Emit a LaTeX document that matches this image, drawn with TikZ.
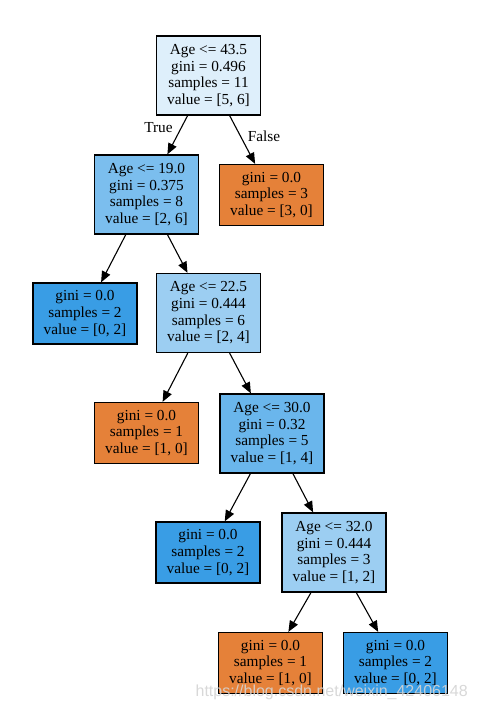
\documentclass[tikz,border=0pt]{standalone}
\usepackage{fontspec}
\setmainfont{Liberation Serif}
\newfontfamily\wmfont{Liberation Sans}
\usetikzlibrary{arrows.meta}
\definecolor{cblue}{HTML}{399DE5}
\definecolor{corange}{HTML}{E58139}
\definecolor{cb17}{HTML}{DEEFFB}
\definecolor{cb67}{HTML}{7BBEEE}
\definecolor{cb50}{HTML}{9CCEF2}
\definecolor{cb75}{HTML}{6AB6EC}
\definecolor{wmgray}{RGB}{212,212,212}
\tikzset{
  tree/.style={draw=black, line width=1.3pt, rectangle, align=center,
    minimum width=104pt, inner sep=0pt,
    font=\fontsize{15.3pt}{16.7pt}\selectfont},
  split/.style={tree, minimum height=79pt},
  leaf/.style={tree, minimum height=61pt},
  edge/.style={line width=1.1pt, -{Triangle[length=11pt,width=9pt]}},
  elabel/.style={font=\fontsize{15.3pt}{16.7pt}\selectfont, inner sep=0pt}
}
\begin{document}
\begin{tikzpicture}[x=1pt,y=-1pt]
\useasboundingbox[fill=white] (0,0) rectangle (478,712);
\node[split, fill=cb17] (n0) at (208.5,75.5) {Age <= 43.5\\gini = 0.496\\samples = 11\\value = [5, 6]};
\node[split, fill=cb67] (n1) at (146.5,194.5) {Age <= 19.0\\gini = 0.375\\samples = 8\\value = [2, 6]};
\node[leaf, fill=corange] (n2) at (271.5,195) {gini = 0.0\\samples = 3\\value = [3, 0]};
\node[leaf, fill=cblue] (n3) at (85,313.5) {gini = 0.0\\samples = 2\\value = [0, 2]};
\node[split, fill=cb50] (n4) at (208.5,313) {Age <= 22.5\\gini = 0.444\\samples = 6\\value = [2, 4]};
\node[leaf, fill=corange] (n5) at (146.5,433) {gini = 0.0\\samples = 1\\value = [1, 0]};
\node[split, fill=cb75] (n6) at (272,433.5) {Age <= 30.0\\gini = 0.32\\samples = 5\\value = [1, 4]};
\node[leaf, fill=cblue] (n7) at (208,552.5) {gini = 0.0\\samples = 2\\value = [0, 2]};
\node[split, fill=cb50] (n8) at (334,552.5) {Age <= 32.0\\gini = 0.444\\samples = 3\\value = [1, 2]};
\node[leaf, fill=corange] (n9) at (270.5,663) {gini = 0.0\\samples = 1\\value = [1, 0]};
\node[leaf, fill=cblue] (n10) at (395.5,663) {gini = 0.0\\samples = 2\\value = [0, 2]};
\draw[edge] (n0) -- (n1);
\draw[edge] (n0) -- (n2);
\draw[edge] (n1) -- (n3);
\draw[edge] (n1) -- (n4);
\draw[edge] (n4) -- (n5);
\draw[edge] (n4) -- (n6);
\draw[edge] (n6) -- (n7);
\draw[edge] (n6) -- (n8);
\draw[edge] (n8) -- (n9);
\draw[edge] (n8) -- (n10);
\node[elabel] (tl) at (158.5,127.5) {True};
\node[elabel] (fl) at (264,136) {False};
\node[anchor=east, text=wmgray, opacity=0.9, inner sep=0pt, font=\wmfont\fontsize{16pt}{18pt}\selectfont] (wm) at (468,692) {https://blog.csdn.net/weixin\_42406148};
\end{tikzpicture}
\end{document}
